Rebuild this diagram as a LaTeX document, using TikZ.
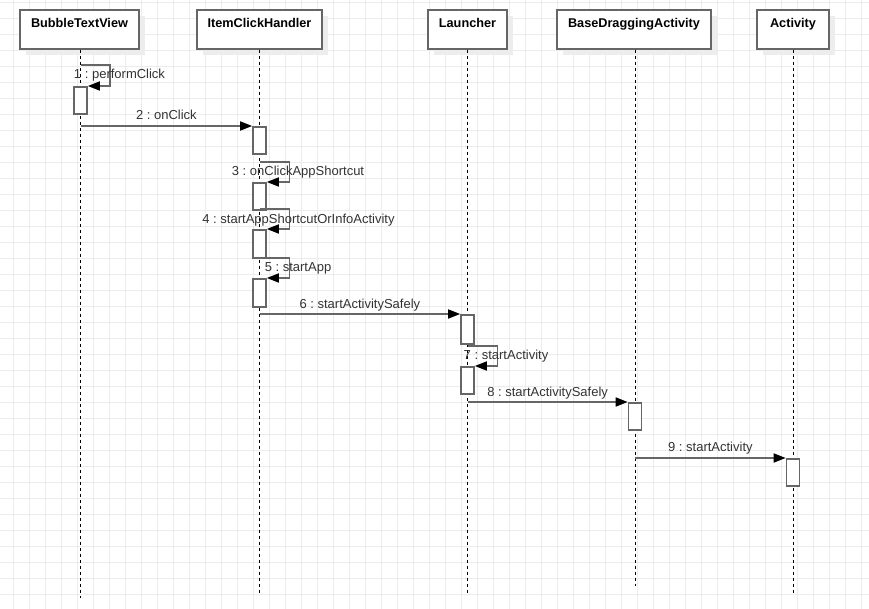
\documentclass[tikz,border=0pt]{standalone}
\usepackage{fontspec}
\setmainfont{Liberation Sans}
\usetikzlibrary{arrows.meta,shadows}
\definecolor{gridc}{HTML}{ECECEC}
\definecolor{boxc}{HTML}{666666}
\definecolor{shadowc}{HTML}{EDEDED}
\definecolor{txtc}{HTML}{333333}
\frenchspacing
\begin{document}
\begin{tikzpicture}[x=1pt,y=-1pt,
  gridline/.style={draw=gridc, line width=1pt},
  hdr/.style={draw=boxc, line width=1.6pt, fill=white, inner sep=0pt,
    drop shadow={shadow xshift=6pt, shadow yshift=-6pt, fill=shadowc, opacity=1}},
  hname/.style={font=\fontsize{12.7}{15}\selectfont\bfseries, text=black, inner sep=0pt, anchor=base},
  life/.style={draw=black, line width=0.9pt, dash pattern=on 3pt off 3pt},
  act/.style={draw=boxc, line width=1.6pt, fill=white, minimum width=13pt, inner sep=0pt},
  msg/.style={draw=boxc, line width=1.6pt, -{Triangle[length=12pt,width=9pt,color=black,fill=black]}},
  lbl/.style={font=\fontsize{13}{15}\selectfont, text=txtc, inner sep=0pt, anchor=base}
]
\useasboundingbox (0,0) rectangle (869,609);
\fill[white] (0,0) rectangle (869,609);
% grid
\foreach \i in {0,...,53} \draw[gridline] (13.3+16*\i,0) -- (13.3+16*\i,609);
\foreach \j in {0,...,37} \draw[gridline] (0,2.3+16*\j) -- (869,2.3+16*\j);

% headers
\node[hdr, minimum width=119pt, minimum height=39pt] (bt) at (79.5,29.5) {};
\node[hdr, minimum width=125pt, minimum height=39pt] (ic) at (259.5,29.5) {};
\node[hdr, minimum width=79pt, minimum height=39pt] (la) at (467.5,29.5) {};
\node[hdr, minimum width=154pt, minimum height=39pt] (bd) at (634,29.5) {};
\node[hdr, minimum width=72pt, minimum height=39pt] (ac) at (793,29.5) {};
\node[hname, yshift=-18.4pt] at (bt.north) {BubbleTextView};
\node[hname, yshift=-18.4pt] at (ic.north) {ItemClickHandler};
\node[hname, yshift=-18.4pt] at (la.north) {Launcher};
\node[hname, yshift=-18.4pt] at (bd.north) {BaseDraggingActivity};
\node[hname, yshift=-18.4pt] at (ac.north) {Activity};

% lifelines
\coordinate (bt-end) at (80.5,598);
\coordinate (ic-end) at (259.5,593);
\coordinate (la-end) at (467.5,593);
\coordinate (bd-end) at (635,586);
\coordinate (ac-end) at (793,593);
\draw[life] (bt.south -| bt-end) -- (bt-end);
\draw[life] (ic.south) -- (ic-end);
\draw[life] (la.south) -- (la-end);
\draw[life] (bd.south -| bd-end) -- (bd-end);
\draw[life] (ac.south) -- (ac-end);

% activation boxes
\node[act, minimum height=27pt, anchor=north] (a1) at (80.5,86) {};
\node[act, minimum height=27pt, anchor=north] (b1) at (259.5,126) {};
\node[act, minimum height=27pt, anchor=north] (b2) at (259.5,182) {};
\node[act, minimum height=28pt, anchor=north] (b3) at (259.5,229) {};
\node[act, minimum height=28pt, anchor=north] (b4) at (259.5,278) {};
\node[act, minimum height=29pt, anchor=north] (l1) at (467.5,314) {};
\node[act, minimum height=27pt, anchor=north] (l2) at (467.5,366) {};
\node[act, minimum height=27pt, anchor=north] (d1) at (635,402) {};
\node[act, minimum height=27pt, anchor=north] (e1) at (793,458) {};

% message start points
\coordinate (s1) at (80.5,65);
\coordinate (s2) at (80.5,126);
\coordinate (s3) at (259.5,162);
\coordinate (s4) at (259.5,209);
\coordinate (s5) at (259.5,258);
\coordinate (s6) at (259.5,314);
\coordinate (s7) at (467.5,346);
\coordinate (s8) at (467.5,402);
\coordinate (s9) at (635,458);

% messages
\draw[msg] (s1) -- ++(29.5,0) |- (a1.north east);
\node[lbl] at (119.5,79) {1 : performClick};
\draw[msg] (s2) -- (b1.north west) node[lbl, midway, yshift=6.6pt] {2 : onClick};
\draw[msg] (s3) -- ++(30,0) |- (b2.north east);
\node[lbl] at (298,175.8) {3 : onClickAppShortcut};
\draw[msg] (s4) -- ++(30,0) |- (b3.north east);
\node[lbl] at (298.5,223.8) {4 : startAppShortcutOrInfoActivity};
\draw[msg] (s5) -- ++(30,0) |- (b4.north east);
\node[lbl] at (298,271.8) {5 : startApp};
\draw[msg] (s6) -- (l1.north west) node[lbl, midway, yshift=5.4pt] {6 : startActivitySafely};
\draw[msg] (s7) -- ++(30,0) |- (l2.north east);
\node[lbl] at (506,359.5) {7 : startActivity};
\draw[msg] (s8) -- (d1.north west) node[lbl, midway, yshift=6pt] {8 : startActivitySafely};
\draw[msg] (s9) -- (e1.north west) node[lbl, midway, yshift=6.6pt] {9 : startActivity};
\end{tikzpicture}
\end{document}
